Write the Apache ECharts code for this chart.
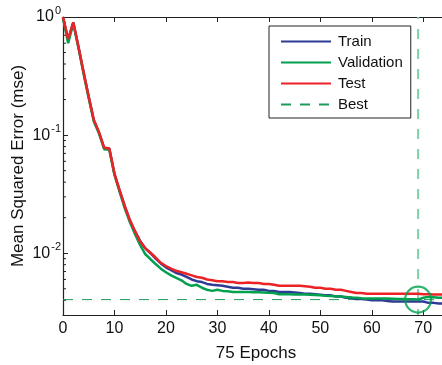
<!DOCTYPE html>
<html>
<head>
<meta charset="utf-8">
<script src="https://cdn.jsdelivr.net/npm/echarts@6/dist/echarts.min.js"></script>
<style>
  html, body { margin: 0; padding: 0; background: #fff; }
  #chart { width: 442px; height: 365px; }
</style>
</head>
<body>
<div id="chart"></div>
<script>
// epochs 0..75
const train = [1.0, 0.64, 0.90, 0.56, 0.34, 0.21, 0.133, 0.105, 0.078, 0.077,
  0.047, 0.034, 0.025, 0.019, 0.0153, 0.0127, 0.0110, 0.0100, 0.0090, 0.0082,
  0.0076, 0.0072, 0.0068, 0.0066, 0.0063, 0.0060, 0.0058, 0.0057, 0.0055, 0.0054,
  0.00535, 0.0053, 0.0052, 0.0051, 0.0051, 0.0050, 0.0050, 0.00495, 0.0049, 0.0049,
  0.0048, 0.0048, 0.0047, 0.0047, 0.0047, 0.00465, 0.0046, 0.00455, 0.00455, 0.0045,
  0.00445, 0.0044, 0.0044, 0.0043, 0.0043, 0.0042, 0.0042, 0.0041, 0.0041, 0.00405,
  0.0040, 0.0040, 0.0040, 0.00395, 0.0039, 0.0039, 0.0039, 0.0039, 0.0039, 0.0039,
  0.0039, 0.0038, 0.0038, 0.00375, 0.00375, 0.0037];

const validation = [0.98, 0.60, 0.88, 0.55, 0.33, 0.205, 0.13, 0.103, 0.076, 0.075,
  0.046, 0.033, 0.024, 0.0183, 0.0145, 0.0117, 0.0098, 0.0089, 0.0081, 0.0074,
  0.0069, 0.0065, 0.0062, 0.0059, 0.0055, 0.0053, 0.0054, 0.0051, 0.0049, 0.0048,
  0.0049, 0.0048, 0.00476, 0.0047, 0.0047, 0.0047, 0.0047, 0.00468, 0.00467, 0.00465,
  0.00462, 0.0046, 0.0045, 0.0045, 0.0045, 0.00448, 0.00448, 0.00448, 0.00446, 0.00443,
  0.0044, 0.00437, 0.00435, 0.00432, 0.0043, 0.00427, 0.00423, 0.0042, 0.00416, 0.00413,
  0.00413, 0.00413, 0.00413, 0.00413, 0.00412, 0.0041, 0.0041, 0.00408, 0.00407, 0.00405,
  0.0042, 0.00427, 0.00424, 0.0042, 0.0042, 0.0042];

const test = [1.0, 0.65, 0.90, 0.56, 0.34, 0.21, 0.134, 0.106, 0.078, 0.077,
  0.047, 0.034, 0.025, 0.019, 0.0153, 0.0125, 0.0110, 0.0101, 0.0092, 0.0083,
  0.0078, 0.0074, 0.0071, 0.0069, 0.0067, 0.0065, 0.0063, 0.0062, 0.0060, 0.0059,
  0.0058, 0.0058, 0.0057, 0.0057, 0.0056, 0.0056, 0.00565, 0.0056, 0.0056, 0.0055,
  0.0055, 0.0054, 0.0053, 0.0053, 0.0053, 0.0053, 0.0053, 0.00525, 0.0052, 0.0051,
  0.0051, 0.0050, 0.0050, 0.0049, 0.0049, 0.0048, 0.0047, 0.0046, 0.0046, 0.00455,
  0.00455, 0.00455, 0.00455, 0.00455, 0.00455, 0.00455, 0.00455, 0.00455, 0.00455, 0.00455,
  0.0045, 0.0045, 0.00448, 0.00448, 0.00448, 0.00448];

const bestEpoch = 69;
const bestValue = 0.00405;
const yMin = 0.003;
const yMax = 1;
const xMax = 75;

// log minor ticks (2..9 x 10^k)
const minorTicks = [0.004, 0.005, 0.006, 0.007, 0.008, 0.009,
  0.02, 0.03, 0.04, 0.05, 0.06, 0.07, 0.08, 0.09,
  0.2, 0.3, 0.4, 0.5, 0.6, 0.7, 0.8, 0.9];

const FONT = "'Liberation Sans', Arial, Helvetica, sans-serif";
const BLUE = '#2e3b95';
const GREEN = '#00a04e';
const RED = '#ec2227';

const toPairs = arr => arr.map((v, i) => [i, v]);

const chart = echarts.init(document.getElementById('chart'));

const option = {
  animation: false,
  textStyle: { fontFamily: FONT },
  // plot runs past the right edge (picture is cropped there)
  grid: { left: 63, top: 17, width: 386, bottom: 50, containLabel: false, outerBoundsMode: 'none' },
  legend: {
    data: ['Train', 'Validation', 'Test', 'Best'],
    orient: 'vertical',
    left: 269,
    top: 26,
    padding: [8, 8, 6, 11],
    itemWidth: 50,
    itemHeight: 16,
    itemGap: 6,
    backgroundColor: '#fff',
    borderColor: '#222',
    borderWidth: 1,
    itemStyle: { color: 'rgba(0,0,0,0)', borderWidth: 0, opacity: 0 },
    textStyle: { fontSize: 15, color: '#111', fontFamily: FONT, padding: [0, 0, 0, 2] }
  },
  xAxis: [
    {
      type: 'value',
      min: 0,
      max: xMax,
      interval: 10,
      name: '75 Epochs',
      nameLocation: 'middle',
      nameGap: 30,
      nameTextStyle: { fontSize: 17, color: '#111', fontFamily: FONT },
      axisLine: { lineStyle: { color: '#222', width: 1.2 } },
      axisTick: { inside: true, length: 5, lineStyle: { color: '#222' } },
      axisLabel: { fontSize: 16, color: '#111', margin: 6, fontFamily: FONT, showMaxLabel: false },
      splitLine: { show: false }
    },
    {
      type: 'value',
      position: 'top',
      min: 0,
      max: xMax,
      interval: 10,
      axisLine: { lineStyle: { color: '#222', width: 1.2 } },
      axisTick: { inside: true, length: 5, lineStyle: { color: '#222' } },
      axisLabel: { show: false },
      splitLine: { show: false }
    }
  ],
  yAxis: {
    type: 'log',
    logBase: 10,
    min: yMin,
    max: yMax,
    name: 'Mean Squared Error (mse)',
    nameLocation: 'middle',
    nameGap: 36,
    nameMoveOverlap: false,
    nameTextStyle: { fontSize: 17, color: '#111', fontFamily: FONT },
    axisLine: { lineStyle: { color: '#222', width: 1.2 } },
    axisTick: { inside: true, length: 5, lineStyle: { color: '#222' } },
    axisLabel: {
      margin: 2,
      formatter: function (value) {
        const e = Math.log10(value);
        if (Math.abs(e - Math.round(e)) > 1e-6) return '';
        return '{b|10}{e|' + Math.round(e) + '}';
      },
      rich: {
        b: { fontSize: 16, color: '#111', lineHeight: 26, fontFamily: FONT },
        e: { fontSize: 11, color: '#111', verticalAlign: 'top', fontFamily: FONT, padding: [1, 0, 0, 1] }
      }
    },
    splitLine: { show: false }
  },
  series: [
    {
      type: 'custom',
      silent: true,
      clip: false,
      data: minorTicks.map(v => [0, v]),
      renderItem: function (params, api) {
        const p = api.coord([api.value(0), api.value(1)]);
        return {
          type: 'line',
          shape: { x1: p[0], y1: p[1], x2: p[0] + 3, y2: p[1] },
          style: { stroke: '#222', lineWidth: 1 }
        };
      },
      z: 1
    },
    {
      name: 'Train',
      type: 'line',
      data: toPairs(train),
      symbol: 'none',
      lineStyle: { color: BLUE, width: 2.5 },
      itemStyle: { color: BLUE },
      z: 3
    },
    {
      name: 'Validation',
      type: 'line',
      data: toPairs(validation),
      symbol: 'none',
      lineStyle: { color: GREEN, width: 2.5 },
      itemStyle: { color: GREEN },
      z: 4
    },
    {
      name: 'Test',
      type: 'line',
      data: toPairs(test),
      symbol: 'none',
      lineStyle: { color: RED, width: 2.5 },
      itemStyle: { color: RED },
      z: 5
    },
    {
      name: 'Best',
      type: 'line',
      data: [[0, bestValue], [xMax, bestValue]],
      symbol: 'none',
      lineStyle: { color: '#1f9a5c', width: 1, type: [10, 9] },
      itemStyle: { color: '#1f9a5c' },
      z: 2
    },
    {
      name: 'Best',
      type: 'line',
      data: [[bestEpoch, yMin], [bestEpoch, yMax]],
      symbol: 'none',
      lineStyle: { color: '#7fd0a8', width: 2, type: [10, 10], dashOffset: 4 },
      itemStyle: { color: '#7fd0a8' },
      z: 2
    },
    {
      type: 'scatter',
      data: [[bestEpoch, bestValue]],
      symbol: 'circle',
      symbolSize: 26,
      silent: true,
      itemStyle: { color: 'rgba(0,0,0,0)', borderColor: GREEN, borderWidth: 2.2 },
      z: 6
    }
  ]
};

chart.setOption(option);
</script>
</body>
</html>
